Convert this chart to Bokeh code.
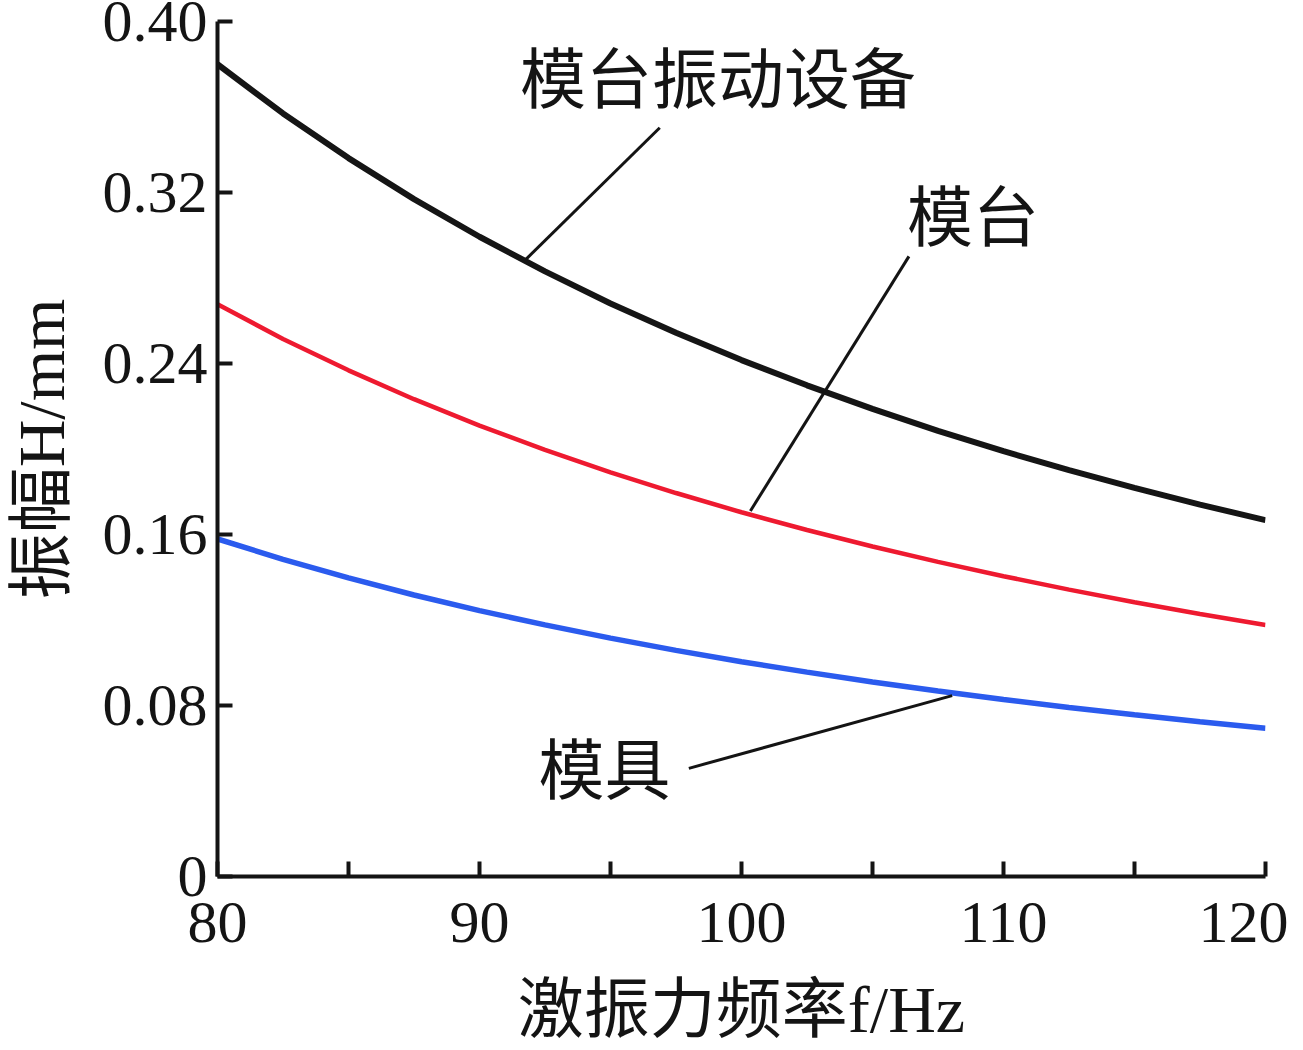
from bokeh.plotting import figure
from bokeh.models import Range1d, FixedTicker
from bokeh.embed import file_html
from bokeh.resources import INLINE
from bokeh.core.properties import value

# ---- data ----
freq = [80.0, 82.5, 85.0, 87.5, 90.0, 92.5, 95.0, 97.5, 100.0,
        102.5, 105.0, 107.5, 110.0, 112.5, 115.0, 117.5, 120.0]
amp_system = [0.3800, 0.3570, 0.3361, 0.3169, 0.2993, 0.2831, 0.2681, 0.2544, 0.2416,
              0.2298, 0.2188, 0.2085, 0.1990, 0.1901, 0.1818, 0.1740, 0.1667]   # 模台振动设备
amp_table = [0.2677, 0.2515, 0.2368, 0.2233, 0.2109, 0.1996, 0.1891, 0.1794, 0.1704,
             0.1621, 0.1544, 0.1472, 0.1405, 0.1342, 0.1283, 0.1228, 0.1177]    # 模台
amp_mold = [0.1579, 0.1484, 0.1397, 0.1317, 0.1244, 0.1177, 0.1115, 0.1058, 0.1005,
            0.0956, 0.0910, 0.0868, 0.0828, 0.0791, 0.0757, 0.0724, 0.0694]     # 模具

x_ticks = [80, 85, 90, 95, 100, 105, 110, 115, 120]
x_tick_labels = ["80", "", "90", "", "100", "", "110", "", "120"]
y_ticks = [0.0, 0.08, 0.16, 0.24, 0.32, 0.40]
y_tick_labels = ["0", "0.08", "0.16", "0.24", "0.32", "0.40"]

x_title = "激振力频率f/Hz"
y_title = "振幅H/mm"

ann_text = ["模台振动设备", "模台", "模具"]
ann_x = [99.10, 108.84, 94.77]
ann_y = [0.3755, 0.3107, 0.0523]
lead_x0 = [96.88, 106.39, 97.99]
lead_y0 = [0.3503, 0.2901, 0.0506]
lead_x1 = [91.76, 100.34, 108.04]
lead_y1 = [0.2886, 0.1710, 0.0846]

# ---- styles ----
INK = "#141414"
NUM_FONT = "Liberation Serif"
MIX_FONT = "'Liberation Serif', 'Noto Sans CJK SC'"
CJK_FONT = "Noto Sans CJK SC"
NUM_SIZE = "60px"
NBSP = "\u00a0"

p = figure(width=1303, height=1050,
           x_range=Range1d(80, 120), y_range=Range1d(0, 0.40),
           output_backend="svg", toolbar_location=None,
           min_border_left=217, min_border_right=38,
           min_border_top=21, min_border_bottom=174)
p.xgrid.visible = False
p.ygrid.visible = False
p.outline_line_color = None
p.background_fill_color = "white"
p.border_fill_color = "white"

for ax in (p.xaxis[0], p.yaxis[0]):
    ax.axis_line_width = 4
    ax.axis_line_color = INK
    ax.major_tick_in = 15
    ax.major_tick_out = 0
    ax.major_tick_line_width = 4
    ax.major_tick_line_color = INK
    ax.minor_tick_line_color = None
    ax.major_label_text_font = NUM_FONT
    ax.major_label_text_font_size = NUM_SIZE
    ax.major_label_text_color = INK
    ax.axis_label_text_font = MIX_FONT
    ax.axis_label_text_font_size = "66px"
    ax.axis_label_text_font_style = "normal"
    ax.axis_label_text_color = INK

p.xaxis[0].ticker = FixedTicker(ticks=x_ticks)
p.yaxis[0].ticker = FixedTicker(ticks=y_ticks)
p.xaxis[0].major_label_standoff = 12
p.yaxis[0].major_label_standoff = 10

x_over = {float(t): lab for t, lab in zip(x_ticks, x_tick_labels)}
# the last label sits slightly left of its tick in the reference (keeps it on the page)
x_over[float(x_ticks[-1])] = x_tick_labels[-1] + NBSP
p.xaxis[0].major_label_overrides = x_over
p.yaxis[0].major_label_overrides = {float(t): lab for t, lab in zip(y_ticks, y_tick_labels)}

p.xaxis[0].axis_label = x_title
p.yaxis[0].axis_label = y_title
p.xaxis[0].axis_label_standoff = 15
p.yaxis[0].axis_label_standoff = 22

# curves
p.line(freq, amp_system, line_color="#151515", line_width=6)
p.line(freq, amp_table, line_color="#ee1a30", line_width=4.5)
p.line(freq, amp_mold, line_color="#2b5bee", line_width=5.5)

# leader lines and annotation texts
p.segment(x0=lead_x0, y0=lead_y0, x1=lead_x1, y1=lead_y1, line_color=INK, line_width=3)
p.text(x=ann_x, y=ann_y, text=ann_text, text_font=value(CJK_FONT), text_font_size="66px",
       text_align="center", text_baseline="middle", text_color=INK)

open("out.html", "w").write(file_html(p, INLINE))
